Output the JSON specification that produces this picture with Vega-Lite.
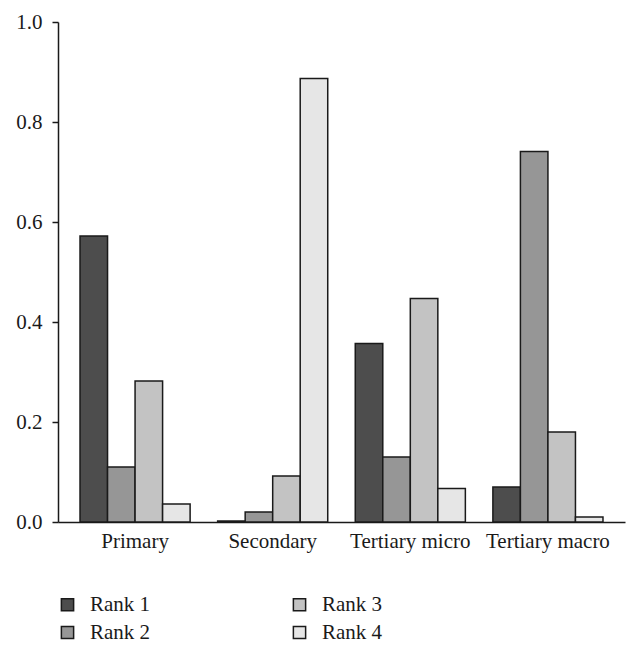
{
  "$schema": "https://vega.github.io/schema/vega-lite/v6.json",
  "width": 567,
  "height": 500,
  "autosize": {"type": "none"},
  "padding": {"left": 58, "top": 22, "right": 3, "bottom": 131},
  "background": "white",
  "config": {
    "view": {"stroke": null},
    "font": "Liberation Serif",
    "axis": {"labelFont": "Liberation Serif", "labelFontSize": 21, "labelColor": "#1a1a1a", "domainColor": "#1a1a1a", "tickColor": "#1a1a1a", "domainWidth": 1.5, "tickWidth": 1.5, "grid": false, "title": null},
    "legend": {"labelFont": "Liberation Serif", "labelFontSize": 21, "labelColor": "#1a1a1a"}
  },
  "data": {
    "values": [
      {"group": "Primary", "rank": "Rank 1", "value": 0.572},
      {"group": "Primary", "rank": "Rank 2", "value": 0.110},
      {"group": "Primary", "rank": "Rank 3", "value": 0.282},
      {"group": "Primary", "rank": "Rank 4", "value": 0.036},
      {"group": "Secondary", "rank": "Rank 1", "value": 0.002},
      {"group": "Secondary", "rank": "Rank 2", "value": 0.020},
      {"group": "Secondary", "rank": "Rank 3", "value": 0.092},
      {"group": "Secondary", "rank": "Rank 4", "value": 0.887},
      {"group": "Tertiary micro", "rank": "Rank 1", "value": 0.357},
      {"group": "Tertiary micro", "rank": "Rank 2", "value": 0.130},
      {"group": "Tertiary micro", "rank": "Rank 3", "value": 0.447},
      {"group": "Tertiary micro", "rank": "Rank 4", "value": 0.067},
      {"group": "Tertiary macro", "rank": "Rank 1", "value": 0.070},
      {"group": "Tertiary macro", "rank": "Rank 2", "value": 0.741},
      {"group": "Tertiary macro", "rank": "Rank 3", "value": 0.180},
      {"group": "Tertiary macro", "rank": "Rank 4", "value": 0.010}
    ]
  },
  "mark": {"type": "bar", "stroke": "#1a1a1a", "strokeWidth": 1.5},
  "encoding": {
    "x": {
      "field": "group", "type": "nominal",
      "sort": ["Primary", "Secondary", "Tertiary micro", "Tertiary macro"],
      "scale": {"paddingInner": 0.2, "paddingOuter": 0.16},
      "axis": {"labelAngle": 0, "ticks": false, "labelPadding": 8}
    },
    "xOffset": {
      "field": "rank", "type": "nominal",
      "sort": ["Rank 1", "Rank 2", "Rank 3", "Rank 4"],
      "scale": {"paddingInner": 0, "paddingOuter": 0}
    },
    "y": {
      "field": "value", "type": "quantitative",
      "scale": {"domain": [0, 1], "nice": false},
      "axis": {"values": [0, 0.2, 0.4, 0.6, 0.8, 1.0], "format": ".1f", "tickSize": 6, "labelPadding": 10}
    },
    "color": {
      "field": "rank", "type": "nominal",
      "scale": {"domain": ["Rank 1", "Rank 2", "Rank 3", "Rank 4"], "range": ["#4d4d4d", "#969696", "#c3c3c3", "#e6e6e6"]},
      "legend": {
        "orient": "none", "legendX": -1, "legendY": 572, "title": null, "columns": 2,
        "columnPadding": 138, "rowPadding": 6, "symbolType": "square", "symbolSize": 150,
        "symbolStrokeColor": "#1a1a1a", "symbolStrokeWidth": 1.5, "symbolOpacity": 1, "labelOffset": 12
      }
    }
  }
}
